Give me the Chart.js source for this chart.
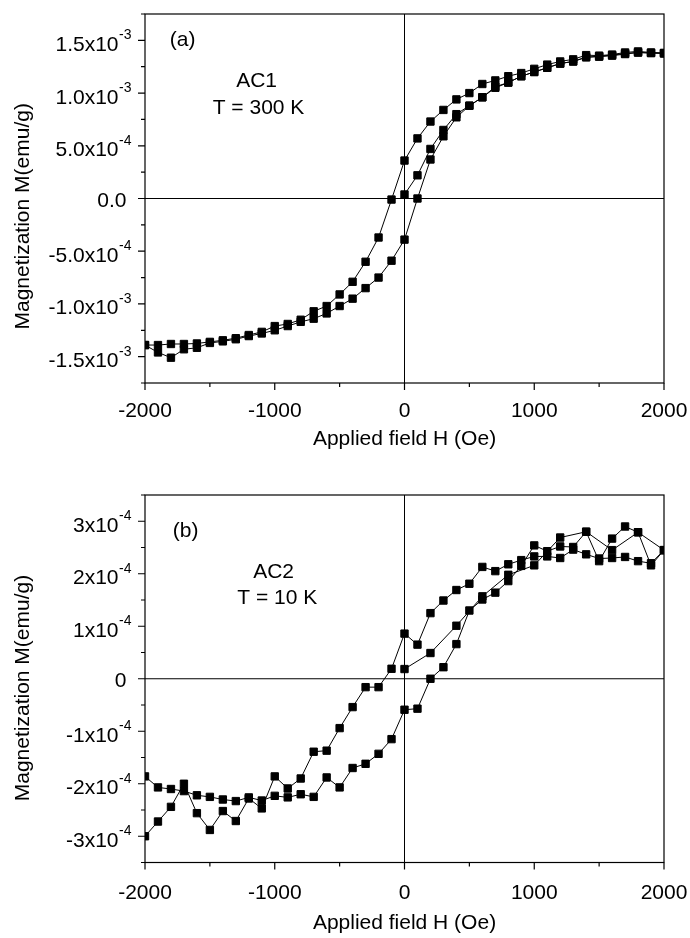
<!DOCTYPE html>
<html>
<head>
<meta charset="utf-8">
<script src="https://cdn.jsdelivr.net/npm/chart.js@4.4.1/dist/chart.umd.min.js"></script>
<style>
	html, body { margin: 0; padding: 0; background: #fff; }
	canvas { display: block; }
</style>
</head>
<body>
<canvas id="chart-a" width="690" height="469"></canvas>
<canvas id="chart-b" width="690" height="469"></canvas>
<script>
// Campo aplicado H (Oe)
const campoH = [-2000, -1900, -1800, -1700, -1600, -1500, -1400, -1300, -1200, -1100, -1000, -900, -800, -700, -600, -500, -400, -300, -200, -100, 0, 100, 200, 300, 400, 500, 600, 700, 800, 900, 1000, 1100, 1200, 1300, 1400, 1500, 1600, 1700, 1800, 1900, 2000];
const campoInicialA = [0, 100, 200, 300, 400, 500, 600, 700, 800, 900, 1000, 1100, 1200, 1300, 1400, 1500, 1600, 1700, 1800, 1900, 2000];
const campoInicialB = [0, 200, 400, 600, 800, 1000, 1200, 1400, 1600, 1800, 2000];

// (a) AC1, T = 300 K  -- M (emu/g)
const inicialA = [3.8e-5, 2.2e-4, 4.7e-4, 6.5e-4, 8.0e-4, 8.8e-4, 9.6e-4, 1.06e-3, 1.10e-3, 1.16e-3, 1.20e-3, 1.24e-3, 1.28e-3, 1.30e-3, 1.34e-3, 1.35e-3, 1.36e-3, 1.375e-3, 1.385e-3, 1.38e-3, 1.38e-3];
const descidaA = [-1.39e-3, -1.39e-3, -1.38e-3, -1.38e-3, -1.375e-3, -1.36e-3, -1.345e-3, -1.325e-3, -1.295e-3, -1.265e-3, -1.21e-3, -1.19e-3, -1.15e-3, -1.07e-3, -1.02e-3, -9.1e-4, -7.9e-4, -6.0e-4, -3.7e-4, -1.0e-5, 3.6e-4, 5.7e-4, 7.3e-4, 8.4e-4, 9.4e-4, 1.0e-3, 1.086e-3, 1.12e-3, 1.16e-3, 1.19e-3, 1.23e-3, 1.27e-3, 1.30e-3, 1.32e-3, 1.36e-3, 1.355e-3, 1.365e-3, 1.385e-3, 1.395e-3, 1.385e-3, 1.38e-3];
const subidaA = [-1.39e-3, -1.46e-3, -1.51e-3, -1.43e-3, -1.416e-3, -1.37e-3, -1.355e-3, -1.335e-3, -1.305e-3, -1.28e-3, -1.25e-3, -1.21e-3, -1.17e-3, -1.14e-3, -1.09e-3, -1.02e-3, -9.5e-4, -8.5e-4, -7.5e-4, -5.9e-4, -3.9e-4, 0.0, 3.7e-4, 5.9e-4, 7.7e-4, 8.8e-4, 9.6e-4, 1.05e-3, 1.10e-3, 1.16e-3, 1.20e-3, 1.24e-3, 1.28e-3, 1.30e-3, 1.34e-3, 1.345e-3, 1.355e-3, 1.37e-3, 1.385e-3, 1.38e-3, 1.375e-3];

// (b) AC2, T = 10 K  -- M (emu/g)
const inicialB = [1.85e-5, 4.9e-5, 1.01e-4, 1.57e-4, 1.98e-4, 2.16e-4, 2.69e-4, 2.80e-4, 2.45e-4, 2.79e-4, 2.45e-4];
const descidaB = [-3.0e-4, -2.72e-4, -2.44e-4, -2.0e-4, -2.56e-4, -2.88e-4, -2.52e-4, -2.71e-4, -2.28e-4, -2.47e-4, -1.86e-4, -2.09e-4, -1.90e-4, -1.39e-4, -1.37e-4, -9.4e-5, -5.4e-5, -1.6e-5, -1.6e-5, 1.9e-5, 8.6e-5, 6.5e-5, 1.25e-4, 1.49e-4, 1.69e-4, 1.81e-4, 2.13e-4, 2.05e-4, 2.18e-4, 2.26e-4, 2.33e-4, 2.33e-4, 2.30e-4, 2.46e-4, 2.37e-4, 2.29e-4, 2.30e-4, 2.32e-4, 2.24e-4, 2.20e-4, 2.45e-4];
const subidaB = [-1.86e-4, -2.07e-4, -2.10e-4, -2.14e-4, -2.22e-4, -2.25e-4, -2.30e-4, -2.33e-4, -2.26e-4, -2.32e-4, -2.23e-4, -2.26e-4, -2.20e-4, -2.25e-4, -1.88e-4, -2.07e-4, -1.70e-4, -1.62e-4, -1.43e-4, -1.15e-4, -5.9e-5, -5.7e-5, 0.0, 2.2e-5, 6.6e-5, 1.30e-4, 1.51e-4, 1.64e-4, 1.86e-4, 2.15e-4, 2.54e-4, 2.43e-4, 2.52e-4, 2.51e-4, 2.80e-4, 2.24e-4, 2.67e-4, 2.90e-4, 2.79e-4, 2.16e-4, 2.45e-4];

// Marcas dos eixos
const xMaiores = [-2000, -1000, 0, 1000, 2000];
const xMenores = [-1500, -500, 500, 1500];
const yMaioresA = [-1.5e-3, -1.0e-3, -5e-4, 0, 5e-4, 1.0e-3, 1.5e-3];
const yMenoresA = [-1.75e-3, -1.25e-3, -7.5e-4, -2.5e-4, 2.5e-4, 7.5e-4, 1.25e-3, 1.75e-3];
const yBaseA = ["-1.5x10", "-1.0x10", "-5.0x10", "0.0", "5.0x10", "1.0x10", "1.5x10"];
const yExpA = ["-3", "-3", "-4", "", "-4", "-3", "-3"];
const yMaioresB = [-3e-4, -2e-4, -1e-4, 0, 1e-4, 2e-4, 3e-4];
const yMenoresB = [-3.5e-4, -2.5e-4, -1.5e-4, -5e-5, 5e-5, 1.5e-4, 2.5e-4, 3.5e-4];
const yBaseB = ["-3x10", "-2x10", "-1x10", "0", "1x10", "2x10", "3x10"];
const yExpB = ["-4", "-4", "-4", "", "-4", "-4", "-4"];

const FONTE = '"Liberation Sans", Arial, sans-serif';

const pares = (hs, ms) => hs.map((h, i) => ({ x: h, y: ms[i] }));

const serie = (dados) => ({
	data: dados,
	showLine: true,
	borderColor: "#000",
	borderWidth: 1,
	backgroundColor: "#000",
	pointStyle: "rect",
	pointRadius: 5.2,
	pointBorderWidth: 1,
	pointBorderColor: "#000",
	tension: 0,
});

// Moldura, linhas do zero, marcas, rótulos do eixo y e anotações
const moldura = {
	id: "moldura",
	beforeDatasetsDraw(chart) {
		const { ctx, chartArea: a, scales: { x, y } } = chart;
		const x0 = x.getPixelForValue(0);
		const y0 = y.getPixelForValue(0);
		ctx.save();
		ctx.strokeStyle = "#000";
		ctx.lineWidth = 1;
		ctx.beginPath();
		ctx.moveTo(a.left, y0);
		ctx.lineTo(a.right, y0);
		ctx.moveTo(x0, a.top);
		ctx.lineTo(x0, a.bottom);
		ctx.stroke();
		ctx.restore();
	},
	afterDraw(chart, args, o) {
		const { ctx, chartArea: a, scales: { x, y } } = chart;
		ctx.save();
		ctx.strokeStyle = "#000";
		ctx.lineWidth = 1.2;
		ctx.strokeRect(a.left, a.top, a.right - a.left, a.bottom - a.top);

		ctx.beginPath();
		for (const v of o.yMaiores) {
			const py = y.getPixelForValue(v);
			ctx.moveTo(a.left - 7, py);
			ctx.lineTo(a.left, py);
		}
		for (const v of o.yMenores) {
			const py = y.getPixelForValue(v);
			ctx.moveTo(a.left - 4, py);
			ctx.lineTo(a.left, py);
		}
		for (const v of xMaiores) {
			const px = x.getPixelForValue(v);
			ctx.moveTo(px, a.bottom);
			ctx.lineTo(px, a.bottom + 7);
		}
		for (const v of xMenores) {
			const px = x.getPixelForValue(v);
			ctx.moveTo(px, a.bottom);
			ctx.lineTo(px, a.bottom + 4);
		}
		ctx.stroke();

		// Rótulos do eixo y com expoente
		ctx.fillStyle = "#000";
		ctx.textBaseline = "alphabetic";
		o.yMaiores.forEach((v, i) => {
			const py = y.getPixelForValue(v);
			if (o.yExp[i]) {
				ctx.font = `21px ${FONTE}`;
				ctx.textAlign = "right";
				ctx.fillText(o.yBase[i], 118.5, py + 10.5);
				ctx.font = `14px ${FONTE}`;
				ctx.textAlign = "left";
				ctx.fillText(o.yExp[i], 119, py - 1);
			} else {
				ctx.font = `21px ${FONTE}`;
				ctx.textAlign = "right";
				ctx.fillText(o.yBase[i], 126.5, py + 8.5);
			}
		});

		// Título do eixo y
		ctx.font = `21px ${FONTE}`;
		ctx.save();
		ctx.translate(23, y.getPixelForValue(o.tituloYEm));
		ctx.rotate(-Math.PI / 2);
		ctx.textAlign = "center";
		ctx.textBaseline = "middle";
		ctx.fillText("Magnetization M(emu/g)", 0, 0);
		ctx.restore();

		// Anotações
		ctx.textAlign = "center";
		ctx.textBaseline = "middle";
		for (const n of o.notas) {
			ctx.fillText(n.texto, x.getPixelForValue(n.h), y.getPixelForValue(n.m));
		}
		ctx.restore();
	},
};

const criarGrafico = (id, series, yMin, yMax, eixo) => {
	const ctx = document.getElementById(id).getContext("2d");
	return new Chart(ctx, {
		type: "scatter",
		data: { datasets: series.map(serie) },
		options: {
			responsive: false,
			animation: false,
			devicePixelRatio: 1,
			layout: { padding: { top: eixo.topo, right: 26, left: 0, bottom: 0 } },
			plugins: {
				legend: { display: false },
				tooltip: { enabled: false },
				moldura: eixo,
			},
			scales: {
				x: {
					type: "linear",
					min: -2000,
					max: 2000,
					afterFit: (s) => {
						s.height = eixo.alturaX;
						s.paddingLeft = 0;
						s.paddingRight = 0;
					},
					afterBuildTicks: (s) => {
						s.ticks = xMaiores.map((v) => ({ value: v }));
					},
					grid: { display: false },
					border: { display: false },
					ticks: {
						color: "#000",
						font: { family: FONTE, size: 21 },
						padding: eixo.padX,
						maxRotation: 0,
						autoSkip: false,
						callback: (v) => String(v),
					},
					title: {
						display: true,
						text: "Applied field H (Oe)",
						color: "#000",
						font: { family: FONTE, size: 21 },
						padding: { top: 0, bottom: eixo.padTituloX },
					},
				},
				y: {
					type: "linear",
					min: yMin,
					max: yMax,
					afterFit: (s) => {
						s.width = 145;
						s.paddingTop = 0;
						s.paddingBottom = 0;
					},
					grid: { display: false },
					border: { display: false },
					ticks: { display: false },
				},
			},
		},
		plugins: [moldura],
	});
};

criarGrafico(
	"chart-a",
	[pares(campoInicialA, inicialA), pares(campoH, descidaA), pares(campoH, subidaA)],
	-1.75e-3,
	1.75e-3,
	{
		topo: 14,
		alturaX: 86,
		padX: 8,
		padTituloX: 17,
		yMaiores: yMaioresA,
		yMenores: yMenoresA,
		yBase: yBaseA,
		yExp: yExpA,
		tituloYEm: -1.69e-4,
		notas: [
			{ texto: "(a)", h: -1710, m: 1.505e-3 },
			{ texto: "AC1", h: -1140, m: 1.114e-3 },
			{ texto: "T = 300 K", h: -1125, m: 8.57e-4 },
		],
	},
);

criarGrafico(
	"chart-b",
	[pares(campoInicialB, inicialB), pares(campoH, descidaB), pares(campoH, subidaB)],
	-3.5e-4,
	3.5e-4,
	{
		topo: 26,
		alturaX: 75.5,
		padX: 10,
		padTituloX: 2.5,
		yMaiores: yMaioresB,
		yMenores: yMenoresB,
		yBase: yBaseB,
		yExp: yExpB,
		tituloYEm: -1.77e-5,
		notas: [
			{ texto: "(b)", h: -1687, m: 2.81e-4 },
			{ texto: "AC2", h: -1009, m: 2.02e-4 },
			{ texto: "T = 10 K", h: -981, m: 1.53e-4 },
		],
	},
);
</script>
</body>
</html>
